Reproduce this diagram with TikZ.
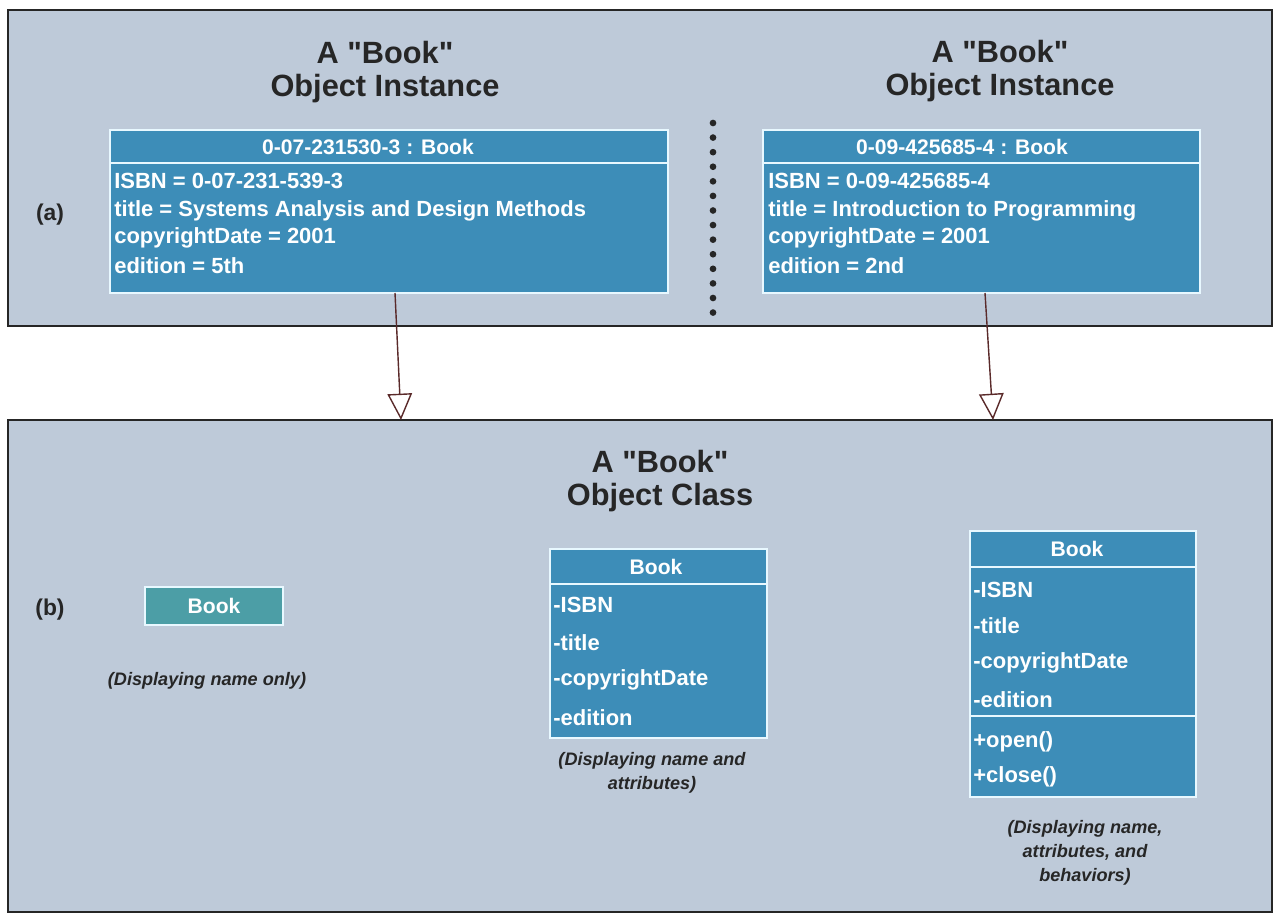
\documentclass[tikz,border=0pt]{standalone}
\usepackage{fontspec}
\setmainfont{Liberation Sans}[Ligatures=TeXOff]
\usetikzlibrary{fit,arrows.meta}
\definecolor{panelc}{HTML}{BECAD9}
\definecolor{boxblue}{HTML}{3D8DB8}
\definecolor{boxteal}{HTML}{4C9EA6}
\definecolor{arrowc}{HTML}{5A2A2A}
\definecolor{linec}{HTML}{E8F8FF}
\begin{document}
\begin{tikzpicture}[x=0.02cm,y=-0.02cm,
  panelsty/.style={draw=black!85, fill=panelc, line width=1.2pt, inner sep=0pt},
  boxsty/.style={draw=linec, fill=boxblue, line width=1pt, inner sep=0pt},
  tealbox/.style={draw=linec, fill=boxteal, line width=1pt, inner sep=0pt},
  divider/.style={draw=linec, line width=1pt},
  head/.style={font=\bfseries\fontsize{17.5}{19}\selectfont, text=black!85, align=center},
  boxtitle/.style={font=\bfseries\fontsize{12}{14}\selectfont, text=white},
  attr/.style={font=\bfseries\fontsize{12.5}{14}\selectfont, text=white, anchor=west, inner sep=0pt},
  cattr/.style={font=\bfseries\fontsize{12.5}{14}\selectfont, text=white, anchor=west, inner sep=0pt},
  caption/.style={font=\bfseries\itshape\fontsize{10.3}{13.5}\selectfont, text=black!85, align=center},
  partlabel/.style={font=\bfseries\fontsize{13}{15}\selectfont, text=black!85},
  inh/.style={draw=arrowc, line width=0.8pt, -{Triangle[open, length=15pt, width=14pt]}},
  dotline/.style={draw=black!85, line width=3.8pt, line cap=round, dash pattern=on 0pt off 8.3pt}
]
\useasboundingbox[fill=white] (0,0) rectangle (1274,915);

% panels
\node[panelsty, fit={(8,10) (1272,326)}] (pa) {};
\node[panelsty, fit={(8,420) (1272,912)}] (pb) {};

% headings
\node[head] (h1) at (385,72) {A "Book"\\Object Instance};
\node[head] (h2) at (1000,71) {A "Book"\\Object Instance};
\node[head] (h3) at (660,481) {A "Book"\\Object Class};

\node[partlabel] (la) at (50,215) {(a)};
\node[partlabel] (lb) at (50,610) {(b)};

% instance box 1
\node[boxsty, fit={(110,130) (668,293)}] (inst1) {};
\draw[divider] (inst1.west |- 0,163) -- (inst1.east |- 0,163);
\node[boxtitle] (inst1t) at (368,147) {0-07-231530-3 : Book};
\node[attr] (i1a) at (114,181) {ISBN = 0-07-231-539-3};
\node[attr] (i1b) at (114,211) {title = Systems Analysis and Design Methods};
\node[attr] (i1c) at (114,238) {copyrightDate = 2001};
\node[attr] (i1d) at (114,266) {edition = 5th};

% instance box 2
\node[boxsty, fit={(763,130) (1200,293)}] (inst2) {};
\draw[divider] (inst2.west |- 0,163) -- (inst2.east |- 0,163);
\node[boxtitle] (inst2t) at (962,147) {0-09-425685-4 : Book};
\node[attr] (i2a) at (768,181) {ISBN = 0-09-425685-4};
\node[attr] (i2b) at (768,211) {title = Introduction to Programming};
\node[attr] (i2c) at (768,238) {copyrightDate = 2001};
\node[attr] (i2d) at (768,266) {edition = 2nd};

% dotted separator
\coordinate (d1) at (713,123);
\coordinate (d2) at (713,313);
\draw[dotline] (d1) -- (d2);

% arrows
\coordinate (a1s) at (395,293);
\coordinate (a1e) at (401,420);
\coordinate (a2s) at (985,293);
\coordinate (a2e) at (993,420);
\draw[inh] (a1s) -- (a1e);
\draw[inh] (a2s) -- (a2e);

% class box: name only
\node[tealbox, fit={(145,587) (283,625)}] (c1) {};
\node[boxtitle] (c1t) at (c1.center) {Book};
\node[caption] (cap1) at (207,681) {(Displaying name only)};

% class box: name and attributes
\node[boxsty, fit={(550,549) (767,738)}] (c2) {};
\draw[divider] (c2.west |- 0,584) -- (c2.east |- 0,584);
\node[boxtitle] (c2t) at (656,567) {Book};
\node[cattr] (c2a) at (553,605) {-ISBN};
\node[cattr] (c2b) at (553,643) {-title};
\node[cattr] (c2c) at (553,680) {-copyrightDate};
\node[cattr] (c2d) at (553,718) {-edition};
\node[caption] (cap2) at (652,773) {(Displaying name and\\attributes)};

% class box: name, attributes and behaviors
\node[boxsty, fit={(970,531) (1196,797)}] (c3) {};
\draw[divider] (c3.west |- 0,567) -- (c3.east |- 0,567);
\draw[divider] (c3.west |- 0,716) -- (c3.east |- 0,716);
\node[boxtitle] (c3t) at (1077,549) {Book};
\node[cattr] (c3a) at (973,590) {-ISBN};
\node[cattr] (c3b) at (973,626) {-title};
\node[cattr] (c3c) at (973,663) {-copyrightDate};
\node[cattr] (c3d) at (973,700) {-edition};
\node[cattr] (c3e) at (973,742) {+open()};
\node[cattr] (c3f) at (973,777) {+close()};
\node[caption] (cap3) at (1085,853) {(Displaying name,\\attributes, and\\behaviors)};
\end{tikzpicture}
\end{document}
